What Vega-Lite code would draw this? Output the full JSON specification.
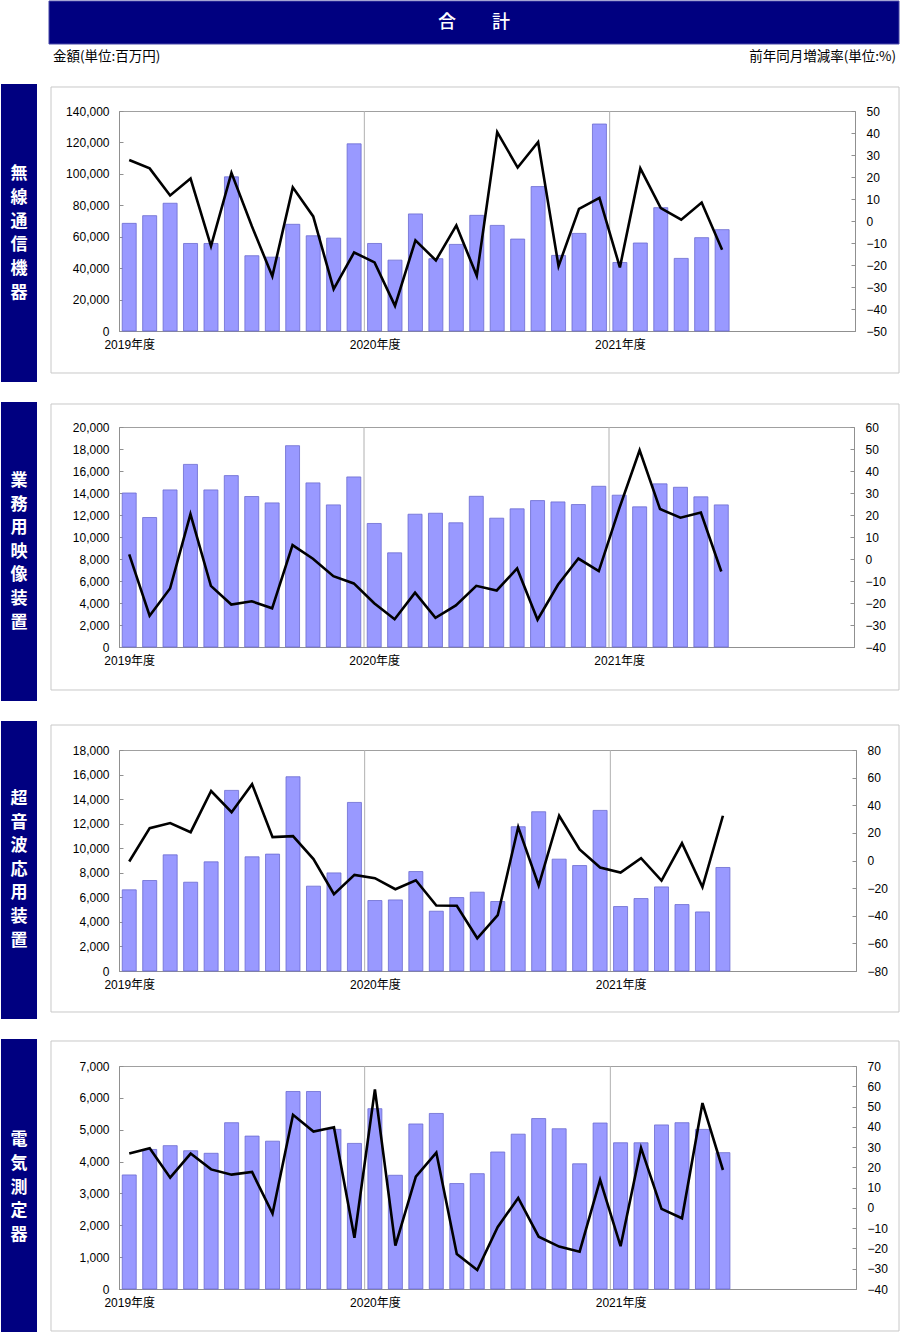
{
"$schema": "https://vega.github.io/schema/vega-lite/v6.json",
"padding": 0,
"background": "#ffffff",
"spacing": 18,
"columns": 1,
"align": "none",
"config": {
  "view": {"stroke": "#a0a0a0", "strokeWidth": 1},
  "axis": {"domainColor": "#909090", "tickColor": "#909090", "labelColor": "#000000", "labelFont": "Liberation Sans, Noto Sans CJK JP", "labelFontSize": 12, "grid": false}
},
"datasets": {
  "radio": [
    {"i":1,"month":"2019-04","amount":68500,"rate":27.7},{"i":2,"month":"2019-05","amount":73400,"rate":23.9},{"i":3,"month":"2019-06","amount":81300,"rate":11.6},{"i":4,"month":"2019-07","amount":55700,"rate":19.3},{"i":5,"month":"2019-08","amount":55700,"rate":-11.4},{"i":6,"month":"2019-09","amount":98100,"rate":21.9},{"i":7,"month":"2019-10","amount":47900,"rate":-2.4},{"i":8,"month":"2019-11","amount":47000,"rate":-25.1},{"i":9,"month":"2019-12","amount":67900,"rate":15.3},{"i":10,"month":"2020-01","amount":60600,"rate":2.1},{"i":11,"month":"2020-02","amount":59100,"rate":-31.0},{"i":12,"month":"2020-03","amount":119100,"rate":-14.3},
    {"i":13,"month":"2020-04","amount":55700,"rate":-18.8},{"i":14,"month":"2020-05","amount":45100,"rate":-38.6},{"i":15,"month":"2020-06","amount":74500,"rate":-8.8},{"i":16,"month":"2020-07","amount":46000,"rate":-17.9},{"i":17,"month":"2020-08","amount":55100,"rate":-2.0},{"i":18,"month":"2020-09","amount":73600,"rate":-24.9},{"i":19,"month":"2020-10","amount":67200,"rate":40.4},{"i":20,"month":"2020-11","amount":58500,"rate":24.3},{"i":21,"month":"2020-12","amount":91900,"rate":35.9},{"i":22,"month":"2021-01","amount":48100,"rate":-20.5},{"i":23,"month":"2021-02","amount":62100,"rate":5.5},{"i":24,"month":"2021-03","amount":131700,"rate":10.5},
    {"i":25,"month":"2021-04","amount":43600,"rate":-21.1},{"i":26,"month":"2021-05","amount":56000,"rate":23.9},{"i":27,"month":"2021-06","amount":78500,"rate":5.9},{"i":28,"month":"2021-07","amount":46200,"rate":0.6},{"i":29,"month":"2021-08","amount":59400,"rate":8.4},{"i":30,"month":"2021-09","amount":64500,"rate":-13.1}
  ],
  "video": [
    {"i":1,"month":"2019-04","amount":14000,"rate":2.1},{"i":2,"month":"2019-05","amount":11770,"rate":-25.8},{"i":3,"month":"2019-06","amount":14280,"rate":-13.4},{"i":4,"month":"2019-07","amount":16600,"rate":20.4},{"i":5,"month":"2019-08","amount":14280,"rate":-12.2},{"i":6,"month":"2019-09","amount":15580,"rate":-20.7},{"i":7,"month":"2019-10","amount":13680,"rate":-19.2},{"i":8,"month":"2019-11","amount":13100,"rate":-22.4},{"i":9,"month":"2019-12","amount":18300,"rate":6.3},{"i":10,"month":"2020-01","amount":14920,"rate":0.1},{"i":11,"month":"2020-02","amount":12920,"rate":-7.8},{"i":12,"month":"2020-03","amount":15460,"rate":-11.1},
    {"i":13,"month":"2020-04","amount":11230,"rate":-20.1},{"i":14,"month":"2020-05","amount":8560,"rate":-27.4},{"i":15,"month":"2020-06","amount":12070,"rate":-15.3},{"i":16,"month":"2020-07","amount":12160,"rate":-26.7},{"i":17,"month":"2020-08","amount":11290,"rate":-21.1},{"i":18,"month":"2020-09","amount":13700,"rate":-12.2},{"i":19,"month":"2020-10","amount":11710,"rate":-14.3},{"i":20,"month":"2020-11","amount":12560,"rate":-4.3},{"i":21,"month":"2020-12","amount":13310,"rate":-27.6},{"i":22,"month":"2021-01","amount":13190,"rate":-11.7},{"i":23,"month":"2021-02","amount":12950,"rate":0.2},{"i":24,"month":"2021-03","amount":14610,"rate":-5.5},
    {"i":25,"month":"2021-04","amount":13800,"rate":22.9},{"i":26,"month":"2021-05","amount":12740,"rate":49.4},{"i":27,"month":"2021-06","amount":14830,"rate":22.7},{"i":28,"month":"2021-07","amount":14520,"rate":18.8},{"i":29,"month":"2021-08","amount":13650,"rate":21.1},{"i":30,"month":"2021-09","amount":12920,"rate":-5.7}
  ],
  "ultrasonic": [
    {"i":1,"month":"2019-04","amount":6610,"rate":-0.7},{"i":2,"month":"2019-05","amount":7370,"rate":23.4},{"i":3,"month":"2019-06","amount":9460,"rate":27.1},{"i":4,"month":"2019-07","amount":7230,"rate":20.5},{"i":5,"month":"2019-08","amount":8890,"rate":50.3},{"i":6,"month":"2019-09","amount":14710,"rate":35.0},{"i":7,"month":"2019-10","amount":9300,"rate":55.3},{"i":8,"month":"2019-11","amount":9520,"rate":16.9},{"i":9,"month":"2019-12","amount":15820,"rate":17.6},{"i":10,"month":"2020-01","amount":6910,"rate":1.0},{"i":11,"month":"2020-02","amount":7990,"rate":-24.4},{"i":12,"month":"2020-03","amount":13730,"rate":-10.4},
    {"i":13,"month":"2020-04","amount":5740,"rate":-12.8},{"i":14,"month":"2020-05","amount":5790,"rate":-20.8},{"i":15,"month":"2020-06","amount":8100,"rate":-14.3},{"i":16,"month":"2020-07","amount":4870,"rate":-32.6},{"i":17,"month":"2020-08","amount":5980,"rate":-32.8},{"i":18,"month":"2020-09","amount":6420,"rate":-56.3},{"i":19,"month":"2020-10","amount":5660,"rate":-39.6},{"i":20,"month":"2020-11","amount":11750,"rate":24.2},{"i":21,"month":"2020-12","amount":12970,"rate":-18.1},{"i":22,"month":"2021-01","amount":9110,"rate":32.4},{"i":23,"month":"2021-02","amount":8590,"rate":8.0},{"i":24,"month":"2021-03","amount":13080,"rate":-5.1},
    {"i":25,"month":"2021-04","amount":5250,"rate":-8.7},{"i":26,"month":"2021-05","amount":5900,"rate":1.7},{"i":27,"month":"2021-06","amount":6850,"rate":-14.5},{"i":28,"month":"2021-07","amount":5410,"rate":12.6},{"i":29,"month":"2021-08","amount":4810,"rate":-19.3},{"i":30,"month":"2021-09","amount":8430,"rate":32.4}
  ],
  "meter": [
    {"i":1,"month":"2019-04","amount":3580,"rate":26.8},{"i":2,"month":"2019-05","amount":4380,"rate":29.4},{"i":3,"month":"2019-06","amount":4500,"rate":14.9},{"i":4,"month":"2019-07","amount":4340,"rate":26.8},{"i":5,"month":"2019-08","amount":4260,"rate":19.0},{"i":6,"month":"2019-09","amount":5220,"rate":16.4},{"i":7,"month":"2019-10","amount":4800,"rate":17.7},{"i":8,"month":"2019-11","amount":4640,"rate":-2.8},{"i":9,"month":"2019-12","amount":6200,"rate":45.9},{"i":10,"month":"2020-01","amount":6200,"rate":37.7},{"i":11,"month":"2020-02","amount":5010,"rate":39.8},{"i":12,"month":"2020-03","amount":4570,"rate":-14.7},
    {"i":13,"month":"2020-04","amount":5660,"rate":58.5},{"i":14,"month":"2020-05","amount":3570,"rate":-18.6},{"i":15,"month":"2020-06","amount":5180,"rate":15.4},{"i":16,"month":"2020-07","amount":5510,"rate":27.3},{"i":17,"month":"2020-08","amount":3310,"rate":-22.8},{"i":18,"month":"2020-09","amount":3620,"rate":-30.6},{"i":19,"month":"2020-10","amount":4300,"rate":-9.4},{"i":20,"month":"2020-11","amount":4860,"rate":4.9},{"i":21,"month":"2020-12","amount":5350,"rate":-14.2},{"i":22,"month":"2021-01","amount":5030,"rate":-19.1},{"i":23,"month":"2021-02","amount":3930,"rate":-21.6},{"i":24,"month":"2021-03","amount":5210,"rate":13.8},
    {"i":25,"month":"2021-04","amount":4590,"rate":-18.9},{"i":26,"month":"2021-05","amount":4590,"rate":29.6},{"i":27,"month":"2021-06","amount":5150,"rate":-0.5},{"i":28,"month":"2021-07","amount":5220,"rate":-5.1},{"i":29,"month":"2021-08","amount":5010,"rate":51.7},{"i":30,"month":"2021-09","amount":4280,"rate":18.7}
  ]
},
"concat": [
{
  "width": 736, "height": 220,
  "resolve": {"scale": {"y": "independent"}, "axis": {"x": "independent", "y": "independent"}},
  "layer": [
    {"data": {"values": [{}]}, "mark": {"type": "rect", "fill": "#ffffff", "fillOpacity": 0, "stroke": "#c8c8c8", "strokeWidth": 1},
     "encoding": {"x": {"datum": -2.826, "type": "quantitative", "scale": {"domain": [0.5, 36.5], "nice": false, "zero": false, "padding": 0}, "axis": null}, "x2": {"datum": 38.653},
                  "y": {"datum": 155273, "type": "quantitative", "scale": {"domain": [0, 140000], "nice": false, "zero": false}, "axis": null}, "y2": {"datum": -26727}}},
    {"data": {"values": [{}]}, "mark": {"type": "rect", "fill": "#000080"},
     "encoding": {"x": {"datum": -5.272, "type": "quantitative", "scale": {"domain": [0.5, 36.5], "nice": false, "zero": false, "padding": 0}, "axis": null}, "x2": {"datum": -3.511},
                  "y": {"datum": 157182, "type": "quantitative", "scale": {"domain": [0, 140000], "nice": false, "zero": false}, "axis": null}, "y2": {"datum": -32454}}},
    {"data": {"values": [{}]}, "mark": {"type": "text", "color": "#ffffff", "font": "Noto Sans CJK JP", "fontSize": 17, "fontWeight": "bold", "lineHeight": 23.8, "align": "center", "baseline": "middle"},
     "encoding": {"x": {"datum": -4.391, "type": "quantitative", "scale": {"domain": [0.5, 36.5], "nice": false, "zero": false, "padding": 0}, "axis": null},
                  "y": {"datum": 99909, "type": "quantitative", "scale": {"domain": [0, 140000], "nice": false, "zero": false}, "axis": null},
                  "text": {"value": ["無", "線", "通", "信", "機", "器"]}}},
    {"data": {"values": [{}]}, "mark": {"type": "rect", "fill": "#000080", "stroke": "#4848a8", "strokeWidth": 1},
     "encoding": {"x": {"datum": -2.924, "type": "quantitative", "scale": {"domain": [0.5, 36.5], "nice": false, "zero": false, "padding": 0}, "axis": null}, "x2": {"datum": 38.653},
                  "y": {"datum": 210000, "type": "quantitative", "scale": {"domain": [0, 140000], "nice": false, "zero": false}, "axis": null}, "y2": {"datum": 182636}}},
    {"data": {"values": [{}]}, "mark": {"type": "text", "color": "#ffffff", "font": "Noto Sans CJK JP", "fontSize": 18, "fontWeight": 500, "align": "center", "baseline": "middle"},
     "encoding": {"x": {"datum": 17.865, "type": "quantitative", "scale": {"domain": [0.5, 36.5], "nice": false, "zero": false, "padding": 0}, "axis": null},
                  "y": {"datum": 196318, "type": "quantitative", "scale": {"domain": [0, 140000], "nice": false, "zero": false}, "axis": null},
                  "text": {"value": "合　　計"}}},
    {"data": {"values": [{}]}, "mark": {"type": "text", "color": "#000000", "font": "Noto Sans CJK JP", "fontSize": 13.5, "align": "left", "baseline": "middle"},
     "encoding": {"x": {"datum": -2.728, "type": "quantitative", "scale": {"domain": [0.5, 36.5], "nice": false, "zero": false, "padding": 0}, "axis": null},
                  "y": {"datum": 174364, "type": "quantitative", "scale": {"domain": [0, 140000], "nice": false, "zero": false}, "axis": null},
                  "text": {"value": "金額(単位:百万円)"}}},
    {"data": {"values": [{}]}, "mark": {"type": "text", "color": "#000000", "font": "Noto Sans CJK JP", "fontSize": 13.5, "align": "right", "baseline": "middle"},
     "encoding": {"x": {"datum": 38.506, "type": "quantitative", "scale": {"domain": [0.5, 36.5], "nice": false, "zero": false, "padding": 0}, "axis": null},
                  "y": {"datum": 174364, "type": "quantitative", "scale": {"domain": [0, 140000], "nice": false, "zero": false}, "axis": null},
                  "text": {"value": "前年同月増減率(単位:%)"}}},
    {"data": {"values": [{}]}, "mark": {"type": "rule", "color": "#b0b0b0", "strokeWidth": 1},
     "encoding": {"x": {"datum": 12.5, "type": "quantitative", "scale": {"domain": [0.5, 36.5], "nice": false, "zero": false, "padding": 0}, "axis": null}}},
    {"data": {"values": [{}]}, "mark": {"type": "rule", "color": "#b0b0b0", "strokeWidth": 1},
     "encoding": {"x": {"datum": 24.5, "type": "quantitative", "scale": {"domain": [0.5, 36.5], "nice": false, "zero": false, "padding": 0}, "axis": null}}},
    {"data": {"name": "radio"}, "mark": {"type": "bar", "orient": "vertical", "width": 14, "fill": "#9999ff", "stroke": "#6b6bd0", "strokeWidth": 0.8},
     "encoding": {
       "x": {"field": "i", "type": "quantitative", "scale": {"domain": [0.5, 36.5], "nice": false, "zero": false, "padding": 0},
             "axis": {"values": [1, 13, 25], "labelExpr": "datum.value == 1 ? '2019年度' : datum.value == 13 ? '2020年度' : '2021年度'", "ticks": false, "title": null, "labelPadding": 8, "labelFlush": false, "labelOverlap": false}},
       "y": {"field": "amount", "type": "quantitative", "scale": {"domain": [0, 140000], "nice": false, "zero": false},
             "axis": {"orient": "left", "values": [0, 20000, 40000, 60000, 80000, 100000, 120000, 140000], "format": ",d", "title": null, "tickSize": -4, "labelPadding": 14}}
     }},
    {"data": {"name": "radio"}, "mark": {"type": "line", "color": "#000000", "strokeWidth": 2.6},
     "encoding": {
       "x": {"field": "i", "type": "quantitative", "scale": {"domain": [0.5, 36.5], "nice": false, "zero": false, "padding": 0}, "axis": null},
       "y": {"field": "rate", "type": "quantitative", "scale": {"domain": [-50, 50], "nice": false, "zero": false},
             "axis": {"orient": "right", "values": [-50, -40, -30, -20, -10, 0, 10, 20, 30, 40, 50], "format": "d", "title": null, "tickSize": -4, "labelPadding": 15}}
     }}
  ]
},
{
  "width": 735, "height": 220,
  "resolve": {"scale": {"y": "independent"}, "axis": {"x": "independent", "y": "independent"}},
  "layer": [
    {"data": {"values": [{}]}, "mark": {"type": "rect", "fill": "#ffffff", "fillOpacity": 0, "stroke": "#c8c8c8", "strokeWidth": 1},
     "encoding": {"x": {"datum": -2.831, "type": "quantitative", "scale": {"domain": [0.5, 36.5], "nice": false, "zero": false, "padding": 0}, "axis": null}, "x2": {"datum": 38.704},
                  "y": {"datum": 22091, "type": "quantitative", "scale": {"domain": [0, 20000], "nice": false, "zero": false}, "axis": null}, "y2": {"datum": -3909}}},
    {"data": {"values": [{}]}, "mark": {"type": "rect", "fill": "#000080"},
     "encoding": {"x": {"datum": -5.280, "type": "quantitative", "scale": {"domain": [0.5, 36.5], "nice": false, "zero": false, "padding": 0}, "axis": null}, "x2": {"datum": -3.516},
                  "y": {"datum": 22273, "type": "quantitative", "scale": {"domain": [0, 20000], "nice": false, "zero": false}, "axis": null}, "y2": {"datum": -4909}}},
    {"data": {"values": [{}]}, "mark": {"type": "text", "color": "#ffffff", "font": "Noto Sans CJK JP", "fontSize": 17, "fontWeight": "bold", "lineHeight": 23.6, "align": "center", "baseline": "middle"},
     "encoding": {"x": {"datum": -4.398, "type": "quantitative", "scale": {"domain": [0.5, 36.5], "nice": false, "zero": false, "padding": 0}, "axis": null},
                  "y": {"datum": 15091, "type": "quantitative", "scale": {"domain": [0, 20000], "nice": false, "zero": false}, "axis": null},
                  "text": {"value": ["業", "務", "用", "映", "像", "装", "置"]}}},
    {"data": {"values": [{}]}, "mark": {"type": "rule", "color": "#b0b0b0", "strokeWidth": 1},
     "encoding": {"x": {"datum": 12.5, "type": "quantitative", "scale": {"domain": [0.5, 36.5], "nice": false, "zero": false, "padding": 0}, "axis": null}}},
    {"data": {"values": [{}]}, "mark": {"type": "rule", "color": "#b0b0b0", "strokeWidth": 1},
     "encoding": {"x": {"datum": 24.5, "type": "quantitative", "scale": {"domain": [0.5, 36.5], "nice": false, "zero": false, "padding": 0}, "axis": null}}},
    {"data": {"name": "video"}, "mark": {"type": "bar", "orient": "vertical", "width": 14, "fill": "#9999ff", "stroke": "#6b6bd0", "strokeWidth": 0.8},
     "encoding": {
       "x": {"field": "i", "type": "quantitative", "scale": {"domain": [0.5, 36.5], "nice": false, "zero": false, "padding": 0},
             "axis": {"values": [1, 13, 25], "labelExpr": "datum.value == 1 ? '2019年度' : datum.value == 13 ? '2020年度' : '2021年度'", "ticks": false, "title": null, "labelPadding": 8, "labelFlush": false, "labelOverlap": false}},
       "y": {"field": "amount", "type": "quantitative", "scale": {"domain": [0, 20000], "nice": false, "zero": false},
             "axis": {"orient": "left", "values": [0, 2000, 4000, 6000, 8000, 10000, 12000, 14000, 16000, 18000, 20000], "format": ",d", "title": null, "tickSize": -4, "labelPadding": 14}}
     }},
    {"data": {"name": "video"}, "mark": {"type": "line", "color": "#000000", "strokeWidth": 2.6},
     "encoding": {
       "x": {"field": "i", "type": "quantitative", "scale": {"domain": [0.5, 36.5], "nice": false, "zero": false, "padding": 0}, "axis": null},
       "y": {"field": "rate", "type": "quantitative", "scale": {"domain": [-40, 60], "nice": false, "zero": false},
             "axis": {"orient": "right", "values": [-40, -30, -20, -10, 0, 10, 20, 30, 40, 50, 60], "format": "d", "title": null, "tickSize": -4, "labelPadding": 15}}
     }}
  ]
},
{
  "width": 737, "height": 221,
  "resolve": {"scale": {"y": "independent"}, "axis": {"x": "independent", "y": "independent"}},
  "layer": [
    {"data": {"values": [{}]}, "mark": {"type": "rect", "fill": "#ffffff", "fillOpacity": 0, "stroke": "#c8c8c8", "strokeWidth": 1},
     "encoding": {"x": {"datum": -2.822, "type": "quantitative", "scale": {"domain": [0.5, 36.5], "nice": false, "zero": false, "padding": 0}, "axis": null}, "x2": {"datum": 38.601},
                  "y": {"datum": 20036, "type": "quantitative", "scale": {"domain": [0, 18000], "nice": false, "zero": false}, "axis": null}, "y2": {"datum": -3339}}},
    {"data": {"values": [{}]}, "mark": {"type": "rect", "fill": "#000080"},
     "encoding": {"x": {"datum": -5.264, "type": "quantitative", "scale": {"domain": [0.5, 36.5], "nice": false, "zero": false, "padding": 0}, "axis": null}, "x2": {"datum": -3.505},
                  "y": {"datum": 20362, "type": "quantitative", "scale": {"domain": [0, 18000], "nice": false, "zero": false}, "axis": null}, "y2": {"datum": -3910}}},
    {"data": {"values": [{}]}, "mark": {"type": "text", "color": "#ffffff", "font": "Noto Sans CJK JP", "fontSize": 17, "fontWeight": "bold", "lineHeight": 23.6, "align": "center", "baseline": "middle"},
     "encoding": {"x": {"datum": -4.385, "type": "quantitative", "scale": {"domain": [0.5, 36.5], "nice": false, "zero": false, "padding": 0}, "axis": null},
                  "y": {"datum": 14009, "type": "quantitative", "scale": {"domain": [0, 18000], "nice": false, "zero": false}, "axis": null},
                  "text": {"value": ["超", "音", "波", "応", "用", "装", "置"]}}},
    {"data": {"values": [{}]}, "mark": {"type": "rule", "color": "#b0b0b0", "strokeWidth": 1},
     "encoding": {"x": {"datum": 12.5, "type": "quantitative", "scale": {"domain": [0.5, 36.5], "nice": false, "zero": false, "padding": 0}, "axis": null}}},
    {"data": {"values": [{}]}, "mark": {"type": "rule", "color": "#b0b0b0", "strokeWidth": 1},
     "encoding": {"x": {"datum": 24.5, "type": "quantitative", "scale": {"domain": [0.5, 36.5], "nice": false, "zero": false, "padding": 0}, "axis": null}}},
    {"data": {"name": "ultrasonic"}, "mark": {"type": "bar", "orient": "vertical", "width": 14, "fill": "#9999ff", "stroke": "#6b6bd0", "strokeWidth": 0.8},
     "encoding": {
       "x": {"field": "i", "type": "quantitative", "scale": {"domain": [0.5, 36.5], "nice": false, "zero": false, "padding": 0},
             "axis": {"values": [1, 13, 25], "labelExpr": "datum.value == 1 ? '2019年度' : datum.value == 13 ? '2020年度' : '2021年度'", "ticks": false, "title": null, "labelPadding": 8, "labelFlush": false, "labelOverlap": false}},
       "y": {"field": "amount", "type": "quantitative", "scale": {"domain": [0, 18000], "nice": false, "zero": false},
             "axis": {"orient": "left", "values": [0, 2000, 4000, 6000, 8000, 10000, 12000, 14000, 16000, 18000], "format": ",d", "title": null, "tickSize": -4, "labelPadding": 14}}
     }},
    {"data": {"name": "ultrasonic"}, "mark": {"type": "line", "color": "#000000", "strokeWidth": 2.6},
     "encoding": {
       "x": {"field": "i", "type": "quantitative", "scale": {"domain": [0.5, 36.5], "nice": false, "zero": false, "padding": 0}, "axis": null},
       "y": {"field": "rate", "type": "quantitative", "scale": {"domain": [-80, 80], "nice": false, "zero": false},
             "axis": {"orient": "right", "values": [-80, -60, -40, -20, 0, 20, 40, 60, 80], "format": "d", "title": null, "tickSize": -4, "labelPadding": 15}}
     }}
  ]
},
{
  "width": 737, "height": 223,
  "resolve": {"scale": {"y": "independent"}, "axis": {"x": "independent", "y": "independent"}},
  "layer": [
    {"data": {"values": [{}]}, "mark": {"type": "rect", "fill": "#ffffff", "fillOpacity": 0, "stroke": "#c8c8c8", "strokeWidth": 1},
     "encoding": {"x": {"datum": -2.822, "type": "quantitative", "scale": {"domain": [0.5, 36.5], "nice": false, "zero": false, "padding": 0}, "axis": null}, "x2": {"datum": 38.601},
                  "y": {"datum": 7785, "type": "quantitative", "scale": {"domain": [0, 7000], "nice": false, "zero": false}, "axis": null}, "y2": {"datum": -1318}}},
    {"data": {"values": [{}]}, "mark": {"type": "rect", "fill": "#000080"},
     "encoding": {"x": {"datum": -5.264, "type": "quantitative", "scale": {"domain": [0.5, 36.5], "nice": false, "zero": false, "padding": 0}, "axis": null}, "x2": {"datum": -3.505},
                  "y": {"datum": 7848, "type": "quantitative", "scale": {"domain": [0, 7000], "nice": false, "zero": false}, "axis": null}, "y2": {"datum": -1350}}},
    {"data": {"values": [{}]}, "mark": {"type": "text", "color": "#ffffff", "font": "Noto Sans CJK JP", "fontSize": 17, "fontWeight": "bold", "lineHeight": 23.8, "align": "center", "baseline": "middle"},
     "encoding": {"x": {"datum": -4.385, "type": "quantitative", "scale": {"domain": [0.5, 36.5], "nice": false, "zero": false, "padding": 0}, "axis": null},
                  "y": {"datum": 4677, "type": "quantitative", "scale": {"domain": [0, 7000], "nice": false, "zero": false}, "axis": null},
                  "text": {"value": ["電", "気", "測", "定", "器"]}}},
    {"data": {"values": [{}]}, "mark": {"type": "rule", "color": "#b0b0b0", "strokeWidth": 1},
     "encoding": {"x": {"datum": 12.5, "type": "quantitative", "scale": {"domain": [0.5, 36.5], "nice": false, "zero": false, "padding": 0}, "axis": null}}},
    {"data": {"values": [{}]}, "mark": {"type": "rule", "color": "#b0b0b0", "strokeWidth": 1},
     "encoding": {"x": {"datum": 24.5, "type": "quantitative", "scale": {"domain": [0.5, 36.5], "nice": false, "zero": false, "padding": 0}, "axis": null}}},
    {"data": {"name": "meter"}, "mark": {"type": "bar", "orient": "vertical", "width": 14, "fill": "#9999ff", "stroke": "#6b6bd0", "strokeWidth": 0.8},
     "encoding": {
       "x": {"field": "i", "type": "quantitative", "scale": {"domain": [0.5, 36.5], "nice": false, "zero": false, "padding": 0},
             "axis": {"values": [1, 13, 25], "labelExpr": "datum.value == 1 ? '2019年度' : datum.value == 13 ? '2020年度' : '2021年度'", "ticks": false, "title": null, "labelPadding": 8, "labelFlush": false, "labelOverlap": false}},
       "y": {"field": "amount", "type": "quantitative", "scale": {"domain": [0, 7000], "nice": false, "zero": false},
             "axis": {"orient": "left", "values": [0, 1000, 2000, 3000, 4000, 5000, 6000, 7000], "format": ",d", "title": null, "tickSize": -4, "labelPadding": 14}}
     }},
    {"data": {"name": "meter"}, "mark": {"type": "line", "color": "#000000", "strokeWidth": 2.6},
     "encoding": {
       "x": {"field": "i", "type": "quantitative", "scale": {"domain": [0.5, 36.5], "nice": false, "zero": false, "padding": 0}, "axis": null},
       "y": {"field": "rate", "type": "quantitative", "scale": {"domain": [-40, 70], "nice": false, "zero": false},
             "axis": {"orient": "right", "values": [-40, -30, -20, -10, 0, 10, 20, 30, 40, 50, 60, 70], "format": "d", "title": null, "tickSize": -4, "labelPadding": 15}}
     }}
  ]
}
]
}
